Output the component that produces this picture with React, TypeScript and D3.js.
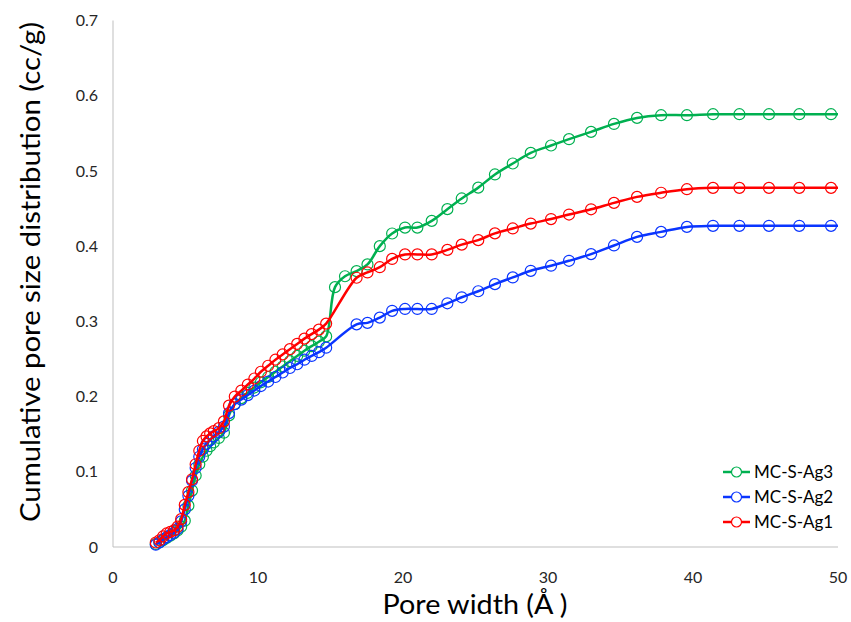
import React from "react";
import * as d3 from "d3";

// Pore widths (Å)
const xLow = [2.95, 3.2, 3.45, 3.7, 3.95, 4.2, 4.45, 4.7, 4.95, 5.2, 5.45, 5.7, 5.95, 6.2, 6.45, 6.7, 6.95, 7.3, 7.65, 8.0, 8.4, 8.85, 9.3, 9.75, 10.2, 10.7, 11.2, 11.7, 12.2, 12.7, 13.2, 13.7, 14.2, 14.7];
const xJumpAg3 = [15.31, 16.0];
const xHigh = [16.8, 17.55, 18.4, 19.25, 20.14, 20.99, 21.98, 23.06, 24.05, 25.19, 26.34, 27.57, 28.81, 30.21, 31.45, 32.97, 34.55, 36.14, 37.8, 39.58, 41.38, 43.2, 45.24, 47.33, 49.52, 51.8];

// Cumulative pore volume (cc/g)
const ag3Low = [0.004, 0.006, 0.009, 0.012, 0.015, 0.018, 0.022, 0.027, 0.035, 0.055, 0.075, 0.095, 0.110, 0.120, 0.128, 0.134, 0.139, 0.145, 0.152, 0.175, 0.190, 0.198, 0.205, 0.212, 0.219, 0.226, 0.233, 0.240, 0.247, 0.254, 0.261, 0.267, 0.273, 0.280];
const ag3Jump = [0.3455, 0.360];
const ag3High = [0.3668, 0.3757, 0.400, 0.4168, 0.4247, 0.4247, 0.4336, 0.4492, 0.4634, 0.4778, 0.4953, 0.5099, 0.524, 0.5338, 0.5422, 0.5519, 0.5625, 0.5705, 0.5741, 0.5741, 0.5754, 0.5754, 0.5754, 0.5754, 0.5754, 0.5754];

const ag2Low = [0.003, 0.006, 0.010, 0.013, 0.016, 0.019, 0.024, 0.034, 0.050, 0.068, 0.088, 0.105, 0.120, 0.130, 0.137, 0.142, 0.147, 0.153, 0.160, 0.178, 0.190, 0.196, 0.202, 0.208, 0.214, 0.220, 0.226, 0.232, 0.238, 0.243, 0.249, 0.254, 0.259, 0.265];
const ag2High = [0.296, 0.298, 0.305, 0.314, 0.3165, 0.3165, 0.3165, 0.324, 0.332, 0.340, 0.3495, 0.3584, 0.3672, 0.374, 0.3805, 0.3894, 0.4009, 0.4123, 0.419, 0.4256, 0.427, 0.427, 0.427, 0.427, 0.427, 0.427];

const ag1Low = [0.006, 0.009, 0.014, 0.018, 0.020, 0.022, 0.027, 0.037, 0.056, 0.073, 0.090, 0.110, 0.128, 0.141, 0.147, 0.151, 0.154, 0.158, 0.167, 0.188, 0.200, 0.208, 0.216, 0.224, 0.233, 0.241, 0.249, 0.256, 0.263, 0.270, 0.277, 0.283, 0.289, 0.297];
const ag1High = [0.358, 0.365, 0.372, 0.383, 0.389, 0.389, 0.389, 0.395, 0.402, 0.408, 0.417, 0.4235, 0.430, 0.436, 0.442, 0.449, 0.4575, 0.4655, 0.471, 0.4757, 0.4775, 0.4775, 0.4775, 0.4775, 0.4775, 0.4775];

const xTicks = [0, 10, 20, 30, 40, 50];
const yTicks = [0, 0.1, 0.2, 0.3, 0.4, 0.5, 0.6, 0.7];
const seriesNames = ["MC-S-Ag3", "MC-S-Ag2", "MC-S-Ag1"];
const seriesColors = ["#00B050", "#0A35FF", "#FF0000"];

const W = 851, H = 622;
const L = 113, R = 838, T = 20.5, B = 547;
const FONT = "Lato, 'Open Sans', sans-serif";

function zip(xs: number[], ys: number[]) {
  return xs.map((x, i) => ({ x, y: ys[i] }));
}

export default function App() {
  const x = d3.scaleLinear().domain([0, 50]).range([L, R]);
  const y = d3.scaleLinear().domain([0, 0.7]).range([B, T]);

  const series = [
    { name: seriesNames[0], color: seriesColors[0], pts: zip([...xLow, ...xJumpAg3, ...xHigh], [...ag3Low, ...ag3Jump, ...ag3High]) },
    { name: seriesNames[1], color: seriesColors[1], pts: zip([...xLow, ...xHigh], [...ag2Low, ...ag2High]) },
    { name: seriesNames[2], color: seriesColors[2], pts: zip([...xLow, ...xHigh], [...ag1Low, ...ag1High]) },
  ];

  const line = d3
    .line<{ x: number; y: number }>()
    .x((d) => x(d.x))
    .y((d) => y(d.y))
    .curve(d3.curveCatmullRom.alpha(0.5));

  const legendY = [472, 497, 522];

  return (
    <svg width={W} height={H} style={{ position: "absolute", left: 0, top: 0, background: "#fff" }} fontFamily={FONT}>
      <defs>
        <clipPath id="plot">
          <rect x={L} y={T - 10} width={R - L} height={B - T + 20} />
        </clipPath>
      </defs>
      <rect width={W} height={H} fill="#fff" />
      {/* axes */}
      <line x1={L} x2={L} y1={T} y2={B} stroke="#BFBFBF" strokeWidth={1} />
      <line x1={L} x2={R} y1={B} y2={B} stroke="#BFBFBF" strokeWidth={1} />
      {yTicks.map((t) => (
        <text key={t} x={98} y={y(t)} dy="0.35em" textAnchor="end" fontSize={16} fill="#262626">
          {t === 0 ? "0" : t.toFixed(1)}
        </text>
      ))}
      {xTicks.map((t) => (
        <text key={t} x={x(t)} y={577} dy="0.35em" textAnchor="middle" fontSize={16} fill="#262626">
          {t}
        </text>
      ))}
      <text x={475} y={614} textAnchor="middle" fontSize={27} fill="#000" textLength={185} lengthAdjust="spacingAndGlyphs">
        Pore width (Å )
      </text>
      <text transform={`translate(40,272) rotate(-90)`} textAnchor="middle" fontSize={27} fill="#000" textLength={500} lengthAdjust="spacingAndGlyphs">
        Cumulative pore size distribution (cc/g)
      </text>
      <g clipPath="url(#plot)">
        {series.map((s) => (
          <g key={s.name}>
            <path d={line(s.pts) || ""} fill="none" stroke={s.color} strokeWidth={2.5} />
            {s.pts.map((p, i) => (
              <circle key={i} cx={x(p.x)} cy={y(p.y)} r={5.5} fill="none" stroke={s.color} strokeWidth={1.2} />
            ))}
          </g>
        ))}
      </g>
      {series.map((s, i) => (
        <g key={s.name}>
          <line x1={723} x2={750} y1={legendY[i]} y2={legendY[i]} stroke={s.color} strokeWidth={2.5} />
          <circle cx={736.5} cy={legendY[i]} r={5} fill="#fff" stroke={s.color} strokeWidth={1.2} />
          <text x={754} y={legendY[i]} dy="0.35em" fontSize={17} fill="#000">{s.name}</text>
        </g>
      ))}
    </svg>
  );
}
